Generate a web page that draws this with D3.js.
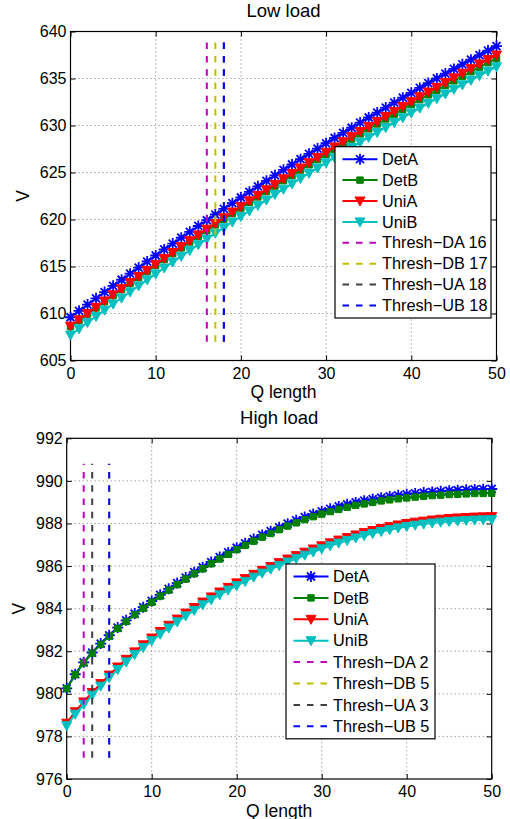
<!DOCTYPE html>
<html>
<head>
<meta charset="utf-8">
<script src="https://d3js.org/d3.v7.min.js"></script>
<style>
  body { margin: 0; background: #fff; }
  svg { font-family: "Liberation Sans", Arial, Helvetica, sans-serif; }
  .grid line { stroke: #7a7a7a; stroke-dasharray: 1,3; }
  .grid path { display: none; }
  .axis text { font-size: 16px; fill: #000; }
  .axis path { display: none; }
  .axis line { stroke: #000; }
  .title { font-size: 18.5px; }
  .label { font-size: 17.5px; }
  .legend text { font-size: 16.3px; }
</style>
</head>
<body>
<div id="chart"></div>
<script>
// x values (queue length) and tick labels
var qLength = [0,1,2,3,4,5,6,7,8,9,10,11,12,13,14,15,16,17,18,19,20,21,22,23,24,25,
  26,27,28,29,30,31,32,33,34,35,36,37,38,39,40,41,42,43,44,45,46,47,48,49,50];
var xTicks = [0, 10, 20, 30, 40, 50];
var lowTicks = [605, 610, 615, 620, 625, 630, 635, 640];
var highTicks = [976, 978, 980, 982, 984, 986, 988, 990, 992];
var seriesNames = ["DetA", "DetB", "UniA", "UniB"];

// Low load
var lowDetA = [609.60,610.28,610.95,611.61,612.28,612.94,613.59,614.24,614.89,615.53,616.17,
  616.81,617.44,618.06,618.69,619.31,619.92,620.53,621.14,621.74,622.34,622.94,623.53,624.11,
  624.70,625.28,625.85,626.42,626.99,627.55,628.11,628.67,629.22,629.76,630.31,630.85,631.38,
  631.91,632.44,632.96,633.48,634.00,634.51,635.01,635.52,636.02,636.51,637.00,637.49,637.97,638.45];
var lowDetB = [608.60,609.27,609.94,610.59,611.26,611.91,612.55,613.20,613.84,614.48,615.11,
  615.74,616.37,616.98,617.61,618.22,618.82,619.43,620.03,620.63,621.22,621.81,622.40,622.97,
  623.56,624.13,624.69,625.26,625.82,626.37,626.93,627.48,628.03,628.56,629.11,629.64,630.16,
  630.69,631.21,631.73,632.24,632.75,633.26,633.75,634.26,634.75,635.23,635.72,636.20,636.68,637.15];
var lowUniA = [608.65,609.33,610.00,610.66,611.33,611.99,612.64,613.29,613.94,614.58,615.22,
  615.86,616.49,617.11,617.74,618.36,618.97,619.58,620.19,620.79,621.39,621.99,622.58,623.16,
  623.75,624.33,624.90,625.47,626.04,626.60,627.16,627.72,628.27,628.81,629.36,629.90,630.43,
  630.96,631.49,632.01,632.53,633.05,633.56,634.06,634.57,635.07,635.56,636.05,636.54,637.02,637.50];
var lowUniB = [607.70,608.37,609.04,609.69,610.36,611.01,611.65,612.30,612.94,613.58,614.21,
  614.84,615.47,616.08,616.71,617.32,617.92,618.53,619.13,619.73,620.32,620.91,621.50,622.07,
  622.66,623.23,623.79,624.36,624.92,625.47,626.03,626.58,627.13,627.66,628.21,628.74,629.26,
  629.79,630.31,630.83,631.34,631.85,632.36,632.85,633.36,633.85,634.33,634.82,635.30,635.78,636.25];
var lowThreshNames = ["Thresh\u2212DA 16", "Thresh\u2212DB 17", "Thresh\u2212UA 18", "Thresh\u2212UB 18"];
var lowThreshQ = [16, 17, 18, 18];
var lowThreshSpan = [607, 639];

// High load
var highDetA = [980.26,980.92,981.48,981.94,982.36,982.75,983.11,983.45,983.77,984.07,984.36,
  984.65,984.93,985.20,985.46,985.71,985.95,986.19,986.42,986.64,986.86,987.07,987.27,987.46,
  987.64,987.82,987.99,988.15,988.30,988.44,988.57,988.69,988.80,988.90,988.99,989.07,989.14,
  989.21,989.27,989.32,989.37,989.41,989.45,989.48,989.51,989.54,989.56,989.58,989.60,989.61,989.62];
var highDetB = [980.24,980.90,981.45,981.91,982.32,982.71,983.07,983.40,983.72,984.02,984.30,
  984.59,984.87,985.13,985.39,985.64,985.87,986.11,986.33,986.55,986.77,986.97,987.17,987.36,
  987.53,987.71,987.88,988.03,988.18,988.32,988.44,988.56,988.66,988.76,988.85,988.92,988.99,
  989.06,989.11,989.16,989.20,989.24,989.28,989.31,989.33,989.36,989.37,989.39,989.41,989.41,989.42];
var highUniA = [978.62,979.16,979.62,980.06,980.48,980.88,981.26,981.62,981.97,982.30,982.62,
  982.93,983.22,983.51,983.79,984.05,984.31,984.55,984.78,985.00,985.21,985.41,985.61,985.80,
  985.98,986.16,986.33,986.49,986.65,986.80,986.95,987.09,987.22,987.34,987.46,987.57,987.67,
  987.76,987.85,987.93,988.00,988.06,988.11,988.16,988.20,988.23,988.26,988.28,988.30,988.31,988.32];
var highUniB = [978.50,979.04,979.50,979.94,980.36,980.76,981.14,981.50,981.85,982.17,982.49,
  982.80,983.09,983.38,983.66,983.92,984.18,984.42,984.65,984.87,985.08,985.28,985.48,985.67,
  985.85,986.02,986.19,986.35,986.51,986.66,986.81,986.95,987.08,987.20,987.32,987.43,987.53,
  987.62,987.71,987.79,987.86,987.92,987.97,988.02,988.06,988.09,988.12,988.14,988.16,988.17,988.18];
var highThreshNames = ["Thresh\u2212DA 2", "Thresh\u2212DB 5", "Thresh\u2212UA 3", "Thresh\u2212UB 5"];
var highThreshQ = [2, 5, 3, 5];
var highThreshSpan = [977, 990.8];

/* styles */
var seriesColors = ["#0000ff", "#008000", "#ff0000", "#00bfbf"];
var threshColors = ["#bf00bf", "#bfbf00", "#404040", "#0000ff"];
var markerPaths = [
  "M-5.5,0H5.5M0,-5.5V5.5M-4,-4L4,4M-4,4L4,-4",
  "M-3.2,-3.2H3.2V3.2H-3.2Z",
  "M-5,-4L5,-4L0,5Z",
  "M-5,-4L5,-4L0,5Z"
];
var markerStroke = [1.8, 1, 1, 1];

var svg = d3.select("#chart").append("svg")
  .attr("width", 510)
  .attr("height", 819);

function drawPanel(p) {
  var x = d3.scaleLinear().domain([0, 50]).range([p.left, p.right]);
  var y = d3.scaleLinear().domain(p.yDomain).range([p.bottom, p.top]);
  var g = svg.append("g");

  // grid
  g.append("g").attr("class", "grid")
    .selectAll("line.v").data(xTicks.slice(1, -1)).enter().append("line")
    .attr("x1", d => x(d)).attr("x2", d => x(d))
    .attr("y1", p.top).attr("y2", p.bottom);
  g.append("g").attr("class", "grid")
    .selectAll("line.h").data(p.yTicks.slice(1, -1)).enter().append("line")
    .attr("y1", d => y(d)).attr("y2", d => y(d))
    .attr("x1", p.left).attr("x2", p.right);

  // axes with inward ticks on all four sides
  g.append("g").attr("class", "axis")
    .attr("transform", `translate(0, ${p.bottom})`)
    .call(d3.axisBottom(x).tickValues(xTicks).tickSizeInner(-5).tickSizeOuter(0).tickPadding(7));
  g.append("g").attr("class", "axis")
    .attr("transform", `translate(0, ${p.top})`)
    .call(d3.axisTop(x).tickValues(xTicks).tickSizeInner(-5).tickSizeOuter(0).tickFormat(""));
  g.append("g").attr("class", "axis")
    .attr("transform", `translate(${p.left}, 0)`)
    .call(d3.axisLeft(y).tickValues(p.yTicks).tickSizeInner(-5).tickSizeOuter(0).tickPadding(4));
  g.append("g").attr("class", "axis")
    .attr("transform", `translate(${p.right}, 0)`)
    .call(d3.axisRight(y).tickValues(p.yTicks).tickSizeInner(-5).tickSizeOuter(0).tickFormat(""));

  g.append("rect")
    .attr("x", p.left).attr("y", p.top)
    .attr("width", p.right - p.left).attr("height", p.bottom - p.top)
    .attr("fill", "none").attr("stroke", "#000").attr("stroke-width", 1.2);

  // titles
  g.append("text").attr("class", "title")
    .attr("x", (p.left + p.right) / 2).attr("y", p.top - 14.5)
    .attr("text-anchor", "middle").text(p.title);
  g.append("text").attr("class", "label")
    .attr("x", (p.left + p.right) / 2).attr("y", p.bottom + 37.5)
    .attr("text-anchor", "middle").text("Q length");
  g.append("text").attr("class", "label")
    .attr("transform", `translate(${p.left - 42}, ${(p.top + p.bottom) / 2}) rotate(-90)`)
    .attr("text-anchor", "middle").text("V");

  // series
  var line = d3.line()
    .x((d, i) => x(qLength[i]))
    .y(d => y(d));

  p.series.forEach(function(vals, k) {
    g.append("path")
      .attr("d", line(vals))
      .attr("fill", "none")
      .attr("stroke", seriesColors[k])
      .attr("stroke-width", 2);
    g.append("g").selectAll("path")
      .data(vals).enter().append("path")
      .attr("transform", (d, i) => `translate(${x(qLength[i])}, ${y(d)})`)
      .attr("d", markerPaths[k])
      .attr("fill", k === 0 ? "none" : seriesColors[k])
      .attr("stroke", seriesColors[k])
      .attr("stroke-width", markerStroke[k]);
  });

  // threshold lines
  p.threshQ.forEach(function(q, k) {
    g.append("line")
      .attr("x1", x(q)).attr("x2", x(q))
      .attr("y1", y(p.threshSpan[0])).attr("y2", y(p.threshSpan[1]))
      .attr("stroke", threshColors[k])
      .attr("stroke-width", 2)
      .attr("stroke-dasharray", "6.5,6.8");
  });

  // legend
  var names = seriesNames.concat(p.threshNames);
  var lg = g.append("g").attr("class", "legend")
    .attr("transform", `translate(${p.legX}, ${p.legY})`);
  lg.append("rect")
    .attr("width", p.legW).attr("height", 12.5 + 7 * p.legStep + 12.5)
    .attr("fill", "#fff").attr("stroke", "#000").attr("stroke-width", 1.2);
  names.forEach(function(name, k) {
    var ry = 12.5 + k * p.legStep;
    var color = k < 4 ? seriesColors[k] : threshColors[k - 4];
    lg.append("line")
      .attr("x1", 7.5).attr("x2", 42.5).attr("y1", ry).attr("y2", ry)
      .attr("stroke", color).attr("stroke-width", 2)
      .attr("stroke-dasharray", k < 4 ? null : "6.5,7");
    if (k < 4) {
      lg.append("path")
        .attr("transform", `translate(25, ${ry})`)
        .attr("d", markerPaths[k])
        .attr("fill", k === 0 ? "none" : color)
        .attr("stroke", color)
        .attr("stroke-width", markerStroke[k]);
    }
    lg.append("text")
      .attr("x", 47).attr("y", ry)
      .attr("dy", "0.35em")
      .text(name);
  });
}

drawPanel({
  title: "Low load",
  left: 70.5, right: 496.5, top: 31.5, bottom: 360.5,
  yDomain: [605, 640], yTicks: lowTicks,
  series: [lowDetA, lowDetB, lowUniA, lowUniB],
  threshQ: lowThreshQ, threshSpan: lowThreshSpan, threshNames: lowThreshNames,
  legX: 335, legY: 146.7, legW: 156, legStep: 20.9
});

drawPanel({
  title: "High load",
  left: 66.7, right: 491.7, top: 438.3, bottom: 779,
  yDomain: [976, 992], yTicks: highTicks,
  series: [highDetA, highDetB, highUniA, highUniB],
  threshQ: highThreshQ, threshSpan: highThreshSpan, threshNames: highThreshNames,
  legX: 286, legY: 564, legW: 149, legStep: 21.4
});
</script>
</body>
</html>
